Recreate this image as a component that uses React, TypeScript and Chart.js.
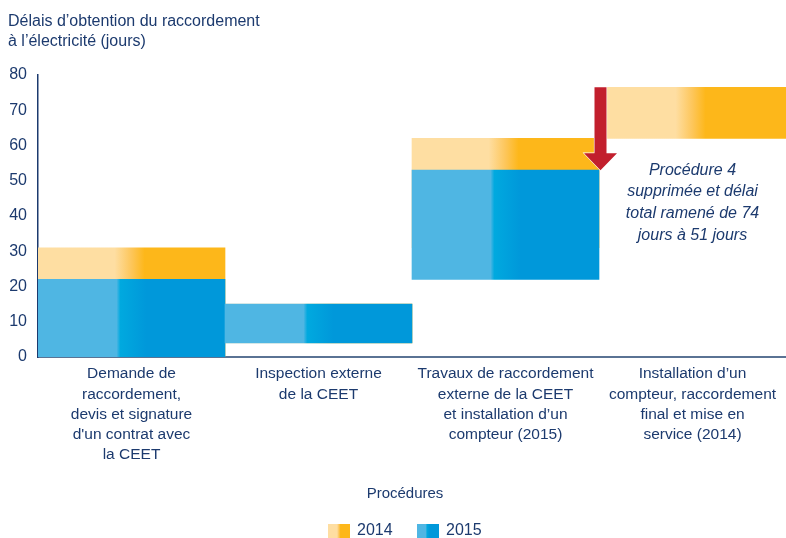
import React, { useEffect, useRef } from 'react';
import { Chart, registerables } from 'chart.js';

Chart.register(...registerables);

// ---- data ----
const categories: string[][] = [
  ['Demande de', 'raccordement,', 'devis et signature', "d'un contrat avec", 'la CEET'],
  ['Inspection externe', 'de la CEET'],
  ['Travaux de raccordement', 'externe de la CEET', 'et installation d’un', 'compteur (2015)'],
  ['Installation d’un', 'compteur, raccordement', 'final et mise en', 'service (2014)'],
];
const series2014: ([number, number] | null)[] = [[0, 31], [4, 15], [31, 62], [62, 76.5]];
const series2015: ([number, number] | null)[] = [[0, 22], [4, 15], [22, 53], null];
const seriesNames = ['2014', '2015'];
const yMin = 0;
const yMax = 80;
const yStep = 10;
const yTitle = ['Délais d’obtention du raccordement', 'à l’électricité (jours)'];
const xTitle = 'Procédures';
const noteLines = ['Procédure 4', 'supprimée et délai', 'total ramené de 74', 'jours à 51 jours'];
const arrowFrom = 76.5;
const arrowTo = 53;

// ---- styles ----
const FONT = '"Liberation Sans", Arial, sans-serif';
const NAVY = '#1c3a6e';
const ORANGE_STOPS: [number, string][] = [
  [0, '#FEDEA2'], [0.41, '#FEDEA2'], [0.5, '#FDC65A'], [0.57, '#FDB71A'], [1, '#FDB71A'],
];
const BLUE_STOPS: [number, string][] = [
  [0, '#4FB6E3'], [0.42, '#4FB6E3'], [0.44, '#00A9DF'], [0.58, '#0098DA'], [1, '#0098DA'],
];

function grad(ctx: CanvasRenderingContext2D, x0: number, x1: number, stops: [number, string][]) {
  const g = ctx.createLinearGradient(x0, 0, x1, 0);
  stops.forEach(([o, c]) => g.addColorStop(o, c));
  return g;
}

const barFill = (stops: [number, string][]) => (c: any) => {
  const chart = c.chart;
  const xs = chart.scales?.x;
  if (!xs || !chart.chartArea) return stops[stops.length - 1][1];
  const w = xs.width / categories.length;
  const cx = xs.getPixelForValue(c.dataIndex);
  return grad(chart.ctx, cx - w / 2, cx + w / 2, stops);
};

const extras = {
  id: 'extras',
  afterDatasetsDraw(chart: any) {
    const { ctx } = chart;
    const xs = chart.scales.x;
    const ys = chart.scales.y;
    // arrow
    const ax = xs.getPixelForValue(2.5) + 1.5;
    const top = ys.getPixelForValue(arrowFrom);
    const tip = ys.getPixelForValue(arrowTo);
    const sw = 6;
    const hw = 16.5;
    const hh = 17;
    ctx.save();
    ctx.beginPath();
    ctx.moveTo(ax - sw, top);
    ctx.lineTo(ax + sw, top);
    ctx.lineTo(ax + sw, tip - hh);
    ctx.lineTo(ax + hw, tip - hh);
    ctx.lineTo(ax, tip);
    ctx.lineTo(ax - hw, tip - hh);
    ctx.lineTo(ax - sw, tip - hh);
    ctx.closePath();
    ctx.fillStyle = '#C21F2D';
    ctx.strokeStyle = '#ffffff';
    ctx.lineWidth = 1.2;
    ctx.stroke();
    ctx.fill();
    ctx.restore();
  },
  afterDraw(chart: any) {
    const { ctx } = chart;
    const xs = chart.scales.x;
    const ys = chart.scales.y;
    ctx.save();
    ctx.fillStyle = NAVY;
    // y title
    ctx.font = `16px ${FONT}`;
    ctx.textAlign = 'left';
    ctx.textBaseline = 'alphabetic';
    ctx.fillText(yTitle[0], 8, 25.5);
    ctx.fillText(yTitle[1], 8, 46);
    // note
    ctx.font = `italic 16px ${FONT}`;
    ctx.textAlign = 'center';
    ctx.textBaseline = 'middle';
    const nx = xs.getPixelForValue(3);
    const ny = ys.getPixelForValue(arrowTo);
    noteLines.forEach((l, i) => ctx.fillText(l, nx, ny + i * 21.7));
    // x title
    ctx.font = `15px ${FONT}`;
    ctx.fillText(xTitle, 405, 494);
    // legend
    const items = [
      { x: 328, stops: ORANGE_STOPS },
      { x: 417, stops: BLUE_STOPS },
    ];
    ctx.font = `16px ${FONT}`;
    ctx.textAlign = 'left';
    items.forEach((it, i) => {
      ctx.fillStyle = grad(ctx, it.x, it.x + 22, it.stops);
      ctx.fillRect(it.x, 524, 22, 22);
      ctx.fillStyle = NAVY;
      ctx.fillText(seriesNames[i], it.x + 29, 531);
    });
    ctx.restore();
  },
};

export default function App() {
  const ref = useRef<HTMLCanvasElement | null>(null);
  useEffect(() => {
    if (!ref.current) return;
    const chart = new Chart(ref.current, {
      type: 'bar',
      data: {
        labels: categories as any,
        datasets: [
          {
            label: seriesNames[0],
            data: series2014 as any,
            backgroundColor: barFill(ORANGE_STOPS) as any,
            borderWidth: 0,
            categoryPercentage: 1,
            barPercentage: 1,
            order: 2,
          },
          {
            label: seriesNames[1],
            data: series2015 as any,
            backgroundColor: barFill(BLUE_STOPS) as any,
            borderWidth: 0,
            categoryPercentage: 1,
            barPercentage: 1,
            order: 1,
          },
        ],
      },
      options: {
        animation: false,
        responsive: true,
        maintainAspectRatio: false,
        layout: { padding: { top: 75, left: 0, right: 0, bottom: 0 } },
        plugins: {
          legend: { display: false },
          tooltip: { enabled: false },
          title: { display: false },
        },
        scales: {
          x: {
            stacked: true,
            grid: { display: false, drawTicks: false },
            border: { display: true, color: '#5A7394', width: 2 },
            ticks: {
              color: NAVY,
              font: { family: FONT, size: 15.5, lineHeight: 1.3 },
              padding: 7,
              maxRotation: 0,
              autoSkip: false,
            },
            afterFit: (s: any) => {
              s.height = 181;
            },
          },
          y: {
            min: yMin,
            max: yMax,
            grid: { display: false, drawTicks: false },
            border: { display: true, color: NAVY, width: 1.5 },
            ticks: {
              stepSize: yStep,
              color: NAVY,
              font: { family: FONT, size: 16 },
              padding: 11,
            },
            afterFit: (s: any) => {
              s.width = 38;
            },
          },
        },
      },
      plugins: [extras],
    });
    return () => chart.destroy();
  }, []);
  return (
    <div style={{ position: 'fixed', left: 0, top: 0, width: 786, height: 538, background: '#fff' }}>
      <canvas ref={ref} />
    </div>
  );
}
